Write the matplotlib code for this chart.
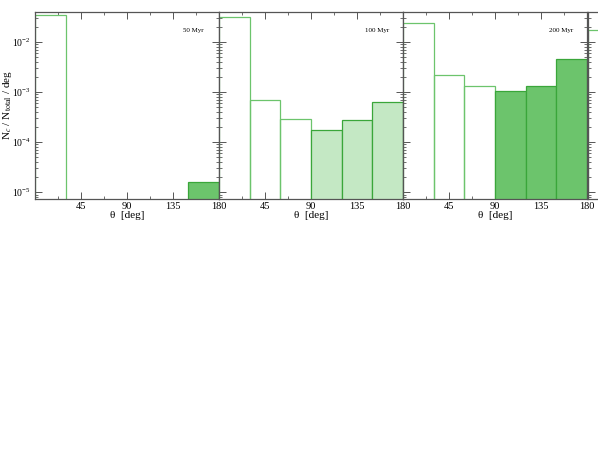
import numpy as np
import matplotlib
matplotlib.use('Agg')
import matplotlib.pyplot as plt
from matplotlib.ticker import FixedLocator, LogLocator, NullFormatter

plt.rcParams['font.family'] = ['Liberation Serif', 'DejaVu Serif']
plt.rcParams['mathtext.fontset'] = 'stix'

# angle bins (deg), 30 deg wide
bin_left = [0, 30, 60, 90, 120, 150]

# N_c / N_total / deg per panel (0 = no bar)
vals_50 = [0.034, 0, 0, 0, 0, 1.6e-5]
vals_100 = [0.0316, 7.0e-4, 2.95e-4, 1.77e-4, 2.8e-4, 6.3e-4]
vals_200 = [0.0233, 2.13e-3, 1.34e-3, 1.03e-3, 1.34e-3, 4.45e-3]
vals_next = [0.0171, 0, 0, 0, 0, 0]

# which bins are shaded
filled_50 = [False, False, False, False, False, True]
filled_100 = [False, False, False, True, True, True]
filled_200 = [False, False, False, True, True, True]
filled_next = [False] * 6

panel_labels = ['50 Myr', '100 Myr', '200 Myr', '']

panels = [
    (vals_50, filled_50, '#6cc46c'),
    (vals_100, filled_100, '#c4e8c4'),
    (vals_200, filled_200, '#6cc46c'),
    (vals_next, filled_next, '#6cc46c'),
]

W, H = 598, 462
fig = plt.figure(figsize=(W / 100, H / 100), dpi=100)

lefts = [35, 219, 403, 588]
pw = 184
top, bot = 11.7, 199

for i, (vals, filled, fc) in enumerate(panels):
    ax = fig.add_axes([lefts[i] / W, 1 - bot / H, pw / W, (bot - top) / H])
    ax.set_yscale('log')
    ax.set_xlim(0, 180)
    ax.set_ylim(10 ** -5.134, 10 ** -1.4)
    for x, v, f in zip(bin_left, vals, filled):
        if v <= 0:
            continue
        if f:
            ax.bar(x, v - 1e-7, width=30, bottom=1e-7, align='edge',
                   facecolor=fc, edgecolor='#3aa63a', linewidth=0.9, zorder=2)
        else:
            ax.bar(x, v - 1e-7, width=30, bottom=1e-7, align='edge',
                   facecolor='none', edgecolor='#6cc46c', linewidth=0.9, zorder=2)

    ax.xaxis.set_major_locator(FixedLocator([45, 90, 135, 180]))
    ax.xaxis.set_minor_locator(FixedLocator(np.arange(0, 181, 22.5)))
    ax.yaxis.set_major_locator(LogLocator(base=10, numticks=10))
    ax.yaxis.set_minor_locator(LogLocator(base=10, subs=np.arange(2, 10), numticks=20))
    ax.yaxis.set_minor_formatter(NullFormatter())
    ax.tick_params(which='both', direction='in', top=True, right=True,
                   color='#555555', labelsize=7.5, pad=2)
    ax.tick_params(axis='y', labelsize=7, pad=3)
    ax.tick_params(which='major', length=5, width=0.7)
    ax.tick_params(which='minor', length=2.5, width=0.6)
    for s in ax.spines.values():
        s.set_color('#555555')
        s.set_linewidth(0.9)
    if i < 3:
        ax.set_xlabel('θ  [deg]', fontsize=8, labelpad=0)
    else:
        # panel cut off by the right edge of the figure
        ax.set_xticklabels([])
    if i == 0:
        ax.set_ylabel(r'N$_c$ / N$_{\rm total}$ / deg', fontsize=8)
        ax.yaxis.set_label_coords(-0.115, 0.5)
    else:
        ax.set_yticklabels([])
    if panel_labels[i]:
        ax.text(0.86, 0.9, panel_labels[i], transform=ax.transAxes,
                fontsize=5, ha='center', va='center')

fig.savefig('out.png', dpi=100)
